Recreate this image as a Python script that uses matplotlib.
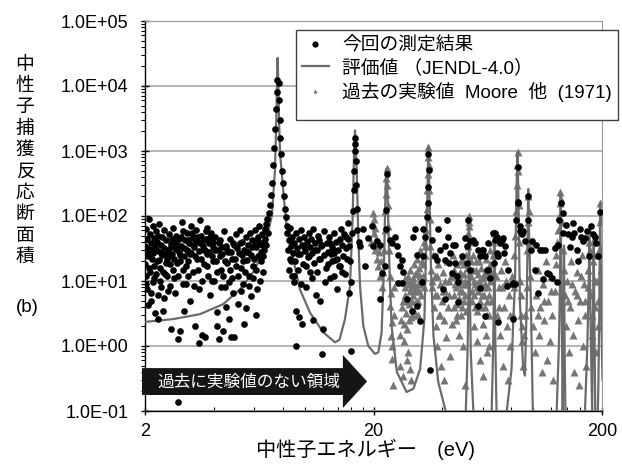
import numpy as np
import matplotlib.pyplot as plt
from matplotlib.patches import Polygon, Rectangle
from matplotlib.lines import Line2D
from matplotlib.ticker import FixedLocator, NullFormatter

plt.rcParams['font.family'] = ['Liberation Sans', 'Noto Sans CJK JP']

# 今回の測定結果 (energy eV, cross section b)
meas_low = [
    (2.00, 35), (2.01, 18), (2.02, 62), (2.03, 9), (2.04, 28), (2.05, 44), (2.06, 4.3), (2.07, 24),
    (2.08, 90), (2.09, 31), (2.10, 14), (2.11, 52), (2.12, 6.5), (2.13, 38), (2.14, 22), (2.16, 70),
    (2.17, 27), (2.18, 11), (2.19, 46), (2.21, 33), (2.22, 3.2), (2.23, 58), (2.25, 20), (2.26, 40),
    (2.28, 2.6), (2.29, 29), (2.31, 75), (2.32, 16), (2.34, 36), (2.35, 8), (2.37, 48), (2.38, 25),
    (2.40, 3.5), (2.42, 60), (2.43, 32), (2.45, 13), (2.47, 42), (2.49, 22), (2.51, 7), (2.53, 30),
    (2.55, 52), (2.57, 18), (2.59, 37), (2.61, 1.8), (2.63, 26), (2.65, 65), (2.67, 40), (2.69, 11),
    (2.72, 31), (2.74, 50), (2.76, 19), (2.78, 0.14), (2.79, 1.3), (2.81, 44), (2.83, 28), (2.85, 1.7),
    (2.87, 35), (2.90, 80), (2.92, 15), (2.94, 58), (2.96, 24), (2.99, 43), (3.01, 9), (3.04, 30),
    (3.06, 55), (3.09, 20), (3.11, 38), (3.14, 5), (3.17, 70), (3.19, 27), (3.22, 46), (3.25, 14),
    (3.28, 33), (3.31, 2.0), (3.34, 60), (3.37, 22), (3.40, 40), (3.43, 7.5), (3.46, 29), (3.49, 88),
    (3.52, 50), (3.55, 1.5), (3.58, 35), (3.62, 18), (3.65, 1.4), (3.68, 45), (3.72, 26), (3.75, 65),
    (3.79, 12), (3.83, 38), (3.86, 6), (3.90, 55), (3.94, 24), (3.98, 33), (4.02, 10), (4.06, 48),
    (4.10, 20), (4.14, 3.3), (4.18, 30), (4.22, 1.3), (4.27, 42), (4.31, 15), (4.36, 26), (4.40, 1.7),
    (4.45, 58), (4.49, 8), (4.54, 35), (4.59, 19), (4.64, 2.6), (4.69, 45), (4.74, 28), (4.79, 11),
    (4.84, 38), (4.89, 1.4), (4.95, 22), (5.00, 52), (5.05, 32), (5.11, 4.5), (5.16, 27), (5.22, 60),
    (5.28, 16), (5.34, 40), (5.39, 9), (5.45, 30), (5.51, 48), (5.57, 21), (5.64, 36), (5.70, 12),
    (5.76, 55), (5.83, 25), (5.89, 42), (5.96, 17), (6.03, 60), (6.10, 33), (6.17, 45), (6.24, 24),
    (6.31, 70), (6.38, 38), (6.46, 28), (6.53, 52), (6.61, 40), (6.69, 62), (6.77, 75), (6.85, 90),
    (2.03, 45), (2.15, 30), (2.27, 50), (2.44, 26), (2.62, 45), (2.86, 25), (3.12, 28), (3.36, 42),
    (3.63, 30), (3.96, 40), (4.25, 24), (4.56, 30), (4.92, 36), (5.30, 25), (5.67, 28), (6.06, 36),
    (6.42, 20), (5.82, 5.8), (6.20, 7.4), (6.60, 14),
    (2.02, 12), (2.05, 7.5), (2.08, 16), (2.11, 26), (2.13, 5), (2.17, 9.5), (2.20, 17), (2.24, 13),
    (2.27, 6), (2.30, 21), (2.33, 10), (2.36, 27), (2.39, 14), (2.41, 5.5), (2.46, 19), (2.50, 12),
    (2.54, 24), (2.58, 8.5), (2.60, 33), (2.64, 15), (2.68, 22), (2.71, 6.5), (2.75, 36), (2.80, 12),
    (2.84, 20), (2.88, 48), (2.93, 9), (2.97, 32), (3.02, 17), (3.07, 42), (3.10, 12), (3.15, 26),
    (3.20, 55), (3.24, 36), (3.27, 8.5), (3.32, 24), (3.38, 48), (3.42, 15), (3.47, 38), (3.53, 22),
    (3.57, 10), (3.61, 42), (3.66, 30), (3.70, 58), (3.74, 17), (3.81, 28), (3.85, 48), (3.92, 10),
    (3.97, 20), (4.04, 30), (4.12, 14), (4.20, 38), (4.29, 8), (4.33, 33), (4.38, 12), (4.47, 20),
    (4.52, 4), (4.61, 28), (4.66, 9.5), (4.72, 15), (4.82, 22), (4.87, 6.5), (4.98, 17), (5.08, 12),
    (5.19, 38), (5.25, 7), (5.36, 20), (5.48, 14), (5.54, 3.8), (5.60, 28), (5.73, 8.5), (5.86, 33),
    (5.93, 11), (6.00, 22), (6.14, 15), (6.27, 48), (6.35, 10), (6.49, 36), (6.57, 24), (6.65, 30),
    (6.73, 45), (6.80, 36), (6.88, 55), (4.15, 2.0), (3.45, 1.1), (2.95, 3.5), (5.42, 2.2),
    (6.12, 3.0), (4.76, 1.4),
]
meas_peak1 = [
    (6.95, 110), (7.05, 150), (7.12, 210), (7.20, 320), (7.28, 600), (7.35, 1100), (7.42, 2200),
    (7.48, 4500), (7.53, 8000), (7.57, 12500), (7.68, 11000), (7.72, 6000), (7.76, 3000), (7.82, 1600),
    (7.88, 900), (7.95, 500), (8.02, 320), (8.10, 200), (8.18, 130), (8.25, 95), (8.35, 70),
]
meas_mid = [
    (8.40, 55), (8.45, 30), (8.52, 42), (8.58, 22), (8.63, 65), (8.70, 35), (8.76, 12), (8.82, 48),
    (8.88, 27), (8.94, 9.5), (9.00, 38), (9.07, 20), (9.13, 55), (9.20, 3.5), (9.26, 32), (9.33, 15),
    (9.40, 44), (9.47, 2.8), (9.54, 26), (9.61, 60), (9.69, 2.2), (9.76, 36), (9.84, 18), (9.92, 48),
    (10.0, 29), (10.1, 8), (10.2, 40), (10.3, 23), (10.4, 55), (10.5, 33), (10.6, 14), (10.7, 45),
    (10.8, 27), (10.9, 62), (11.0, 19), (11.1, 38), (11.2, 6), (11.3, 30), (11.4, 50), (11.5, 22),
    (11.6, 42), (11.7, 4.9), (11.8, 35), (12.0, 1.8), (12.1, 25), (12.2, 58), (12.4, 16), (12.5, 38),
    (12.6, 28), (12.8, 48), (12.9, 11), (13.1, 33), (13.2, 20), (13.4, 55), (13.5, 27), (13.7, 40),
    (13.8, 7.4), (14.0, 30), (14.2, 45), (14.3, 17), (14.5, 36), (14.7, 24), (14.8, 52), (15.0, 13),
    (15.2, 32), (15.4, 44), (15.6, 6.5), (15.8, 20), (15.9, 0.85), (15.5, 78), (15.9, 9.5),
    (12.9, 38), (13.3, 30), (13.6, 21), (14.1, 17), (14.4, 62), (15.1, 48),
    (8.5, 15), (8.7, 20), (9.0, 12), (9.3, 26), (9.6, 9), (9.9, 33), (10.15, 17), (10.45, 24),
    (10.75, 11), (11.05, 30), (11.35, 14), (11.65, 22), (11.95, 36), (12.3, 9.5), (12.7, 18),
    (13.0, 26), (13.45, 12), (13.9, 22), (14.6, 14), (15.3, 22), (15.7, 34), (11.9, 0.75),
    (10.9, 2.5), (9.15, 1.0),
]
meas_peak2 = [
    (16.10, 55), (16.25, 120), (16.35, 250), (16.45, 500), (16.52, 1000), (16.58, 1600),
    (16.65, 1300), (16.72, 700), (16.80, 300), (16.90, 130), (17.00, 60), (17.20, 40),
]
meas_high = [
    (17.46, 34), (18.05, 62), (18.36, 17), (18.98, 46), (19.64, 69), (19.96, 34), (20.66, 41),
    (21.35, 36), (21.73, 13.4), (21.35, 5.2), (22.45, 17), (22.60, 62), (22.75, 124), (22.85, 450),
    (23.62, 43), (24.03, 38), (24.84, 48), (25.27, 34), (25.68, 25), (26.57, 21), (26.12, 17),
    (27.00, 14), (26.57, 9.4), (25.68, 9.4), (27.94, 5.2), (29.39, 3.5), (31.10, 4.1), (31.95, 2.4),
    (30.38, 62), (29.87, 48), (30.91, 25), (32.84, 62), (33.62, 48), (33.04, 24), (32.50, 9.5),
    (34.19, 98), (34.54, 157), (34.75, 282), (34.80, 910), (35.00, 510), (35.35, 0.43),
    (35.96, 43), (37.16, 24), (38.42, 62), (39.08, 30), (37.81, 21), (41.10, 21), (40.41, 7.4),
    (41.10, 5.2), (41.10, 34), (41.81, 88), (42.5, 48), (43.2, 27), (42.8, 19), (44.7, 36),
    (44.0, 13.5), (45.5, 19), (46.3, 12), (47.0, 9.5), (46.7, 4.8), (45.47, 36), (48.64, 24),
    (50.3, 46), (51.2, 19), (52.0, 88), (51.16, 34), (52.9, 41), (52.9, 15), (54.7, 43),
    (55.62, 38), (57.48, 30), (59.5, 30), (58.5, 24), (60.46, 30), (61.5, 24), (62.6, 15),
    (63.6, 38), (63.6, 15), (64.7, 11), (58.5, 7.9), (57.48, 4.1), (61.52, 2.9), (66.9, 55),
    (68.04, 55), (69.22, 48), (68.0, 43), (69.2, 27), (67.6, 19), (70.34, 2.3), (70.3, 24),
    (71.5, 38), (72.8, 43), (74.0, 46), (75.26, 34), (74.7, 27), (77.8, 15), (76.6, 8.4),
    (80.5, 8.9), (81.84, 9.4), (83.26, 8.9), (81.84, 2.6), (84.1, 88), (85.56, 157), (85.56, 570),
    (86.08, 167), (87.56, 58), (87.6, 69), (89.6, 52), (90.52, 58), (92.06, 41), (95.2, 88),
    (95.2, 200), (99.08, 41), (101.8, 15), (105.3, 6.6), (108.9, 30), (107.1, 30), (112.6, 30),
    (110.7, 10.6), (114.6, 13.4), (120.5, 11), (124.6, 32), (128.8, 36), (130.1, 88), (132.0, 157),
    (134.6, 111), (139.2, 73), (135.4, 55), (142.4, 52), (147.4, 48), (149.8, 78), (155.0, 30),
    (157.5, 20), (160.2, 62), (164.7, 41), (168.5, 46), (171.4, 58), (176.0, 24), (179.0, 69),
    (183.2, 52), (186.4, 48), (192.7, 24), (196.0, 117), (117.0, 13), (103.0, 36), (98.0, 30),
    (151.0, 55), (162.0, 48), (189.0, 38), (145.0, 33), (126.5, 9.5),
]

# 評価値 (JENDL-4.0) curve vertices
jendl = [
    (2.0, 2.35), (2.65, 2.59), (3.48, 3.09), (4.39, 4.39), (5.21, 7.44), (5.94, 13.5), (6.57, 27.4),
    (6.91, 55), (7.19, 104), (7.41, 509), (7.50, 2500), (7.57, 12000), (7.61, 27000), (7.66, 12000),
    (7.72, 3000), (7.80, 925), (8.12, 177), (8.34, 69), (8.91, 21.4), (9.53, 7.44), (10.54, 3.27),
    (12.06, 1.62), (13.57, 1.14), (14.2, 1.25), (15.0, 2.59), (15.78, 8.36), (16.2, 87.5),
    (16.44, 926), (16.6, 2080), (16.88, 509), (17.16, 48.6), (17.46, 8.36), (18.05, 2.04),
    (18.98, 1.0), (20.3, 0.755), (21.0, 0.80), (21.7, 1.62), (22.2, 15), (22.6, 282), (22.85, 540),
    (23.1, 157), (23.5, 15), (24.0, 2.04), (25.3, 0.40), (27.9, 0.196), (29.9, 0.22), (32.0, 0.445),
    (33.4, 2.59), (34.2, 87.5), (34.8, 1155), (35.1, 282), (35.7, 15), (36.6, 1.44), (38.4, 0.28),
    (41.1, 0.11), (43.0, 0.05),
    (49.5, 0.05), (50.7, 0.1), (51.6, 0.8), (52.1, 8), (52.4, 95), (52.8, 8), (53.3, 0.8),
    (54.7, 0.1), (56.0, 0.05),
    (64.5, 0.05), (65.8, 0.1), (66.8, 1.0), (67.3, 8), (67.6, 55), (67.9, 8), (68.3, 1.0),
    (69.1, 0.1), (70.5, 0.05),
    (75.0, 0.05), (76.6, 0.1), (80.4, 0.445), (81.8, 2.6), (83.2, 8.4), (83.8, 48), (84.6, 300),
    (85.4, 968), (86.2, 150), (87.5, 4.6), (90.4, 0.45), (92.0, 0.35), (93.7, 4.6), (94.6, 60),
    (95.1, 260), (95.8, 60), (97.7, 4.6), (99.6, 0.1), (101.0, 0.05),
    (124.0, 0.05), (126.7, 0.1), (129.5, 1.0), (131.0, 10), (131.9, 224), (132.8, 10), (133.7, 1.0),
    (134.6, 0.1), (135.6, 1.0), (136.4, 35), (137.2, 1.0), (138.3, 0.1), (139.5, 0.05),
    (167.0, 0.05), (168.5, 0.1), (172.5, 1.0), (175.0, 10), (176.0, 50), (177.2, 10), (179.0, 1.0),
    (181.0, 0.1), (182.5, 2), (184.0, 40), (185.3, 2), (186.8, 0.1), (188.0, 0.05),
    (191.0, 0.05), (192.8, 0.25), (194.5, 3), (195.5, 30), (196.3, 157), (197.5, 20), (199.0, 2),
    (201.0, 0.3),
]

# 過去の実験値 Moore 他 (1971)
moore = [
    (19.6, 40), (19.8, 75), (19.9, 110), (20.0, 55), (20.2, 90), (20.3, 30), (20.4, 65), (20.6, 45),
    (20.7, 22), (20.9, 35), (21.0, 17), (21.2, 28), (21.4, 12), (21.6, 20), (21.8, 8), (22.0, 14),
    (22.3, 30), (22.45, 60), (22.55, 120), (22.65, 220), (22.75, 380), (22.85, 550), (22.95, 300),
    (23.05, 150), (23.15, 70), (23.3, 30),
    (23.6, 12), (23.8, 6.6), (23.7, 4.1), (24.0, 2.3), (23.9, 1.44), (24.2, 1.0), (24.1, 0.63),
    (24.3, 0.25), (24.6, 3), (24.5, 8),
    (26.5, 2.5), (27.0, 5), (27.3, 1.2), (27.6, 8), (27.8, 3.2), (28.1, 1.8), (28.3, 12), (28.6, 4.5),
    (28.8, 7), (29.0, 15), (29.2, 2.8), (29.5, 10), (29.8, 6), (30.0, 18), (30.2, 3.5), (30.5, 13),
    (30.7, 8), (31.0, 22), (31.2, 5), (31.5, 16), (31.8, 10), (32.0, 30), (32.3, 6), (32.6, 20),
    (32.9, 12), (33.2, 40), (33.5, 25), (26.0, 0.5), (26.8, 0.35), (28.0, 0.6), (28.4, 0.8),
    (28.9, 0.45), (29.3, 0.3), (29.7, 11), (30.4, 7), (31.4, 9), (28.5, 9), (27.4, 11),
    (26.2, 1.5), (26.7, 4), (27.1, 2.2), (27.5, 6), (27.9, 10), (28.2, 5), (28.7, 2.5), (29.1, 8),
    (29.4, 5), (29.9, 3), (30.1, 9), (30.6, 5), (30.9, 14), (31.3, 3), (31.7, 7), (32.1, 12),
    (32.5, 9), (33.0, 18), (33.3, 8), (33.7, 35),
    (34.0, 60), (34.2, 130), (34.35, 250), (34.5, 450), (34.65, 800), (34.8, 1150), (34.95, 600),
    (35.1, 250), (35.3, 90), (35.5, 35),
    (35.8, 15), (36.2, 8), (36.5, 25), (36.8, 4), (37.2, 12), (37.5, 2), (37.8, 6), (38.1, 1.0),
    (38.4, 18), (38.7, 3), (39.0, 9), (39.4, 0.5), (39.7, 5), (40.1, 14), (40.5, 2.5), (40.9, 0.3),
    (41.3, 7), (41.7, 1.4), (42.1, 20), (42.5, 4), (43.0, 10), (43.4, 0.7), (43.9, 2.2),
    (36.0, 10), (37.0, 6), (38.0, 12), (39.2, 3), (40.3, 7), (41.0, 10), (42.8, 6), (43.6, 12),
    (44.5, 25), (45.0, 6), (45.4, 12), (45.8, 2.5), (46.2, 18), (46.6, 4.5), (47.0, 9), (47.4, 1.5),
    (47.8, 14), (48.2, 3), (48.6, 7), (49.0, 22), (49.4, 1.0), (49.8, 5), (50.2, 10), (50.5, 0.25),
    (50.8, 3.5), (51.2, 16), (51.6, 35), (46.0, 8), (48.0, 11), (50.0, 18), (47.2, 5.5),
    (44.8, 4), (45.2, 15), (45.6, 9), (46.4, 3), (46.8, 12), (47.6, 7), (48.4, 20), (48.8, 4),
    (49.2, 9), (49.6, 13), (50.4, 6), (50.9, 25), (51.4, 9),
    (51.9, 55), (52.2, 80), (52.4, 100), (52.6, 70), (52.9, 40), (53.2, 20),
    (53.6, 12), (54.0, 5), (54.5, 25), (55.0, 2), (55.5, 9), (56.0, 15), (56.5, 3.5), (57.0, 1.2),
    (57.5, 7), (58.0, 20), (58.5, 0.6), (59.0, 4), (59.5, 11), (60.0, 2.2), (60.5, 0.35), (61.0, 6),
    (61.5, 14), (62.0, 1.5), (62.5, 3), (63.0, 0.8), (63.5, 8), (64.0, 1.0), (64.5, 18), (65.0, 30),
    (65.5, 5), (55.2, 6), (57.8, 10), (60.2, 8), (62.8, 5),
    (53.8, 7), (54.3, 15), (54.8, 10), (55.8, 4), (56.3, 20), (56.8, 8), (57.3, 13), (58.3, 5),
    (58.8, 9), (59.3, 16), (59.8, 6), (60.8, 12), (61.3, 4), (61.8, 9), (62.3, 22), (63.3, 12),
    (63.8, 3), (64.3, 6), (64.8, 10), (65.3, 14), (66.0, 18),
    (66.5, 25), (67.0, 40), (67.4, 55), (67.8, 45), (68.2, 25), (68.7, 12),
    (69.5, 3), (70.5, 8), (71.5, 1.5), (72.5, 15), (73.5, 0.5), (74.5, 4), (75.5, 20), (76.5, 2),
    (77.5, 0.3), (78.5, 6), (79.5, 1.0), (80.5, 12), (81.5, 3), (82.5, 25), (83.5, 50),
    (71.0, 4), (73.0, 8), (76.0, 10), (79.0, 3), (82.0, 8),
    (84.3, 120), (84.8, 300), (85.2, 600), (85.5, 950), (85.8, 500), (86.3, 150), (87.0, 40),
    (87.8, 10), (88.5, 3), (89.5, 1.2), (90.5, 0.5), (88.0, 6), (89.0, 2), (91.0, 1.5), (92.5, 3),
    (93.5, 8), (94.0, 30), (94.5, 80), (95.0, 200), (95.5, 120), (96.2, 40), (97.0, 12), (98.0, 4),
    (100.0, 2), (101.5, 0.8), (103.0, 6), (104.5, 15), (106.0, 1.5), (107.5, 4), (109.0, 0.4),
    (110.5, 9), (112.0, 2.5), (113.5, 20), (115.0, 0.6), (116.5, 5), (118.0, 1.2), (119.5, 12),
    (121.0, 3), (122.5, 0.3), (124.0, 7), (125.5, 18), (127.0, 40), (105.0, 3), (111.0, 5),
    (120.0, 7), (126.0, 25),
    (128.5, 60), (129.5, 100), (130.5, 160), (131.5, 230), (132.5, 180), (133.5, 80), (134.5, 30),
    (136.0, 15), (137.5, 6),
    (139.0, 2), (141.0, 10), (143.0, 0.8), (145.0, 4), (147.0, 20), (149.0, 1.5), (151.0, 0.4),
    (153.0, 7), (155.0, 14), (157.0, 2.5), (159.0, 0.25), (161.0, 5), (163.0, 25), (165.0, 1.0),
    (167.0, 9), (169.0, 3), (171.0, 0.5), (173.0, 15), (175.0, 40), (176.0, 60), (177.0, 30),
    (179.0, 6), (181.0, 1.5), (183.0, 20), (184.0, 45), (185.0, 25), (187.0, 4), (189.0, 0.8),
    (191.0, 10), (193.0, 2), (194.5, 30), (195.5, 80), (196.5, 160), (197.5, 90), (198.5, 30),
    (199.5, 8), (142.0, 5), (148.0, 9), (156.0, 6), (162.0, 12), (168.0, 5), (174.0, 8),
    (180.0, 3), (186.0, 10), (192.0, 5), (198.0, 15),
]

x_major = [2, 20, 200]
x_minor = [4, 6, 8, 10, 12, 14, 16, 18, 40, 60, 80, 100, 120, 140, 160, 180]
y_major = [1e-1, 1e0, 1e1, 1e2, 1e3, 1e4, 1e5]

ylabel_chars = '中性子捕獲反応断面積'
legend_labels = ['今回の測定結果', '評価値 （JENDL-4.0）', '過去の実験値  Moore  他  (1971)']
arrow_text = '過去に実験値のない領域'
xlabel = '中性子エネルギー　(eV)'

fig = plt.figure(figsize=(6.22, 4.66), dpi=100)
ax = fig.add_axes([145 / 622, 55 / 466, 457 / 622, 390 / 466])

meas = np.array(meas_low + meas_peak1 + meas_mid + meas_peak2 + meas_high)
jendl_arr = np.array(jendl)
moore_arr = np.array(moore)

dot_color = 'black'
line_color = '#6b6b6b'
tri_color = '#767676'

ax.plot(moore_arr[:, 0], moore_arr[:, 1], ls='none', marker='^', ms=5.5, color=tri_color,
        mec='none', zorder=2)
ax.plot(jendl_arr[:, 0], jendl_arr[:, 1], color=line_color, lw=1.6, zorder=3)
ax.plot(meas[:, 0], meas[:, 1], ls='none', marker='o', ms=4.8, color=dot_color, mec='none', zorder=4)

ax.set_xscale('log')
ax.set_yscale('log')
ax.set_xlim(2, 200)
ax.set_ylim(0.1, 1e5)

ax.xaxis.set_major_locator(FixedLocator(x_major))
ax.xaxis.set_minor_locator(FixedLocator(x_minor))
ax.set_xticklabels([str(v) for v in x_major])
ax.xaxis.set_minor_formatter(NullFormatter())
ax.yaxis.set_major_locator(FixedLocator(y_major))
ax.yaxis.set_minor_locator(FixedLocator([m * 10.0 ** d for d in range(-1, 5) for m in range(2, 10)]))
ax.set_yticklabels([f'{v:.1E}' for v in y_major])
ax.yaxis.set_minor_formatter(NullFormatter())

ax.tick_params(axis='both', which='major', labelsize=13, length=6, width=1, direction='inout')
ax.tick_params(axis='y', which='major', pad=9)
ax.tick_params(axis='x', which='major', pad=5.5)
ax.tick_params(axis='y', which='minor', direction='out', length=3, width=0.8)
ax.tick_params(axis='x', which='minor', direction='in', length=3, width=0.8)

ax.grid(axis='y', which='major', color='#b4b4b4', lw=1.4)
ax.set_axisbelow(True)
for side in ['top', 'right']:
    ax.spines[side].set_color('#9a9a9a')
for side in ['left', 'bottom']:
    ax.spines[side].set_color('black')
    ax.spines[side].set_linewidth(1.0)

# arrow: region without past experiments
arrow = Polygon([(-0.0066, 0.041), (0.433, 0.041), (0.433, 0.0077), (0.486, 0.0756),
                 (0.433, 0.1436), (0.433, 0.110), (-0.0066, 0.110)],
                closed=True, transform=ax.transAxes, facecolor='#151515', edgecolor='none',
                clip_on=False, zorder=6)
ax.add_patch(arrow)
ax.text(0.2276, 0.0756, arrow_text, transform=ax.transAxes, ha='center', va='center',
        color='white', fontsize=12, zorder=7)

# stacked vertical y label
for i, ch in enumerate(ylabel_chars):
    fig.text(25 / 622, 1 - (65 + 21.4 * i) / 466, ch, ha='center', va='center', fontsize=13.5)
fig.text(27 / 622, 1 - 307 / 466, '(b)', ha='center', va='center', fontsize=13.5)

fig.text(365 / 622, 1 - 449 / 466, xlabel, ha='center', va='center', fontsize=14.5)

# legend
frame = Rectangle((296 / 622, 1 - 120 / 466), 322 / 622, 90 / 466, transform=fig.transFigure,
                  facecolor='white', edgecolor='#404040', lw=1.0, zorder=5)
fig.add_artist(frame)
handles = [
    Line2D([], [], ls='none', marker='o', ms=4.5, color=dot_color, mec='none'),
    Line2D([], [], color=line_color, lw=1.6),
    Line2D([], [], ls='none', marker='^', ms=3, color=tri_color, mec='none'),
]
leg = fig.legend(handles, legend_labels, loc='upper left', bbox_to_anchor=(298 / 622, 1 - 33 / 466),
                 frameon=False, fontsize=13.5, handlelength=1.45, handletextpad=0.7,
                 labelspacing=0.25, borderpad=0.2, borderaxespad=0)
leg.set_zorder(6)

fig.savefig('out.png', dpi=100)
